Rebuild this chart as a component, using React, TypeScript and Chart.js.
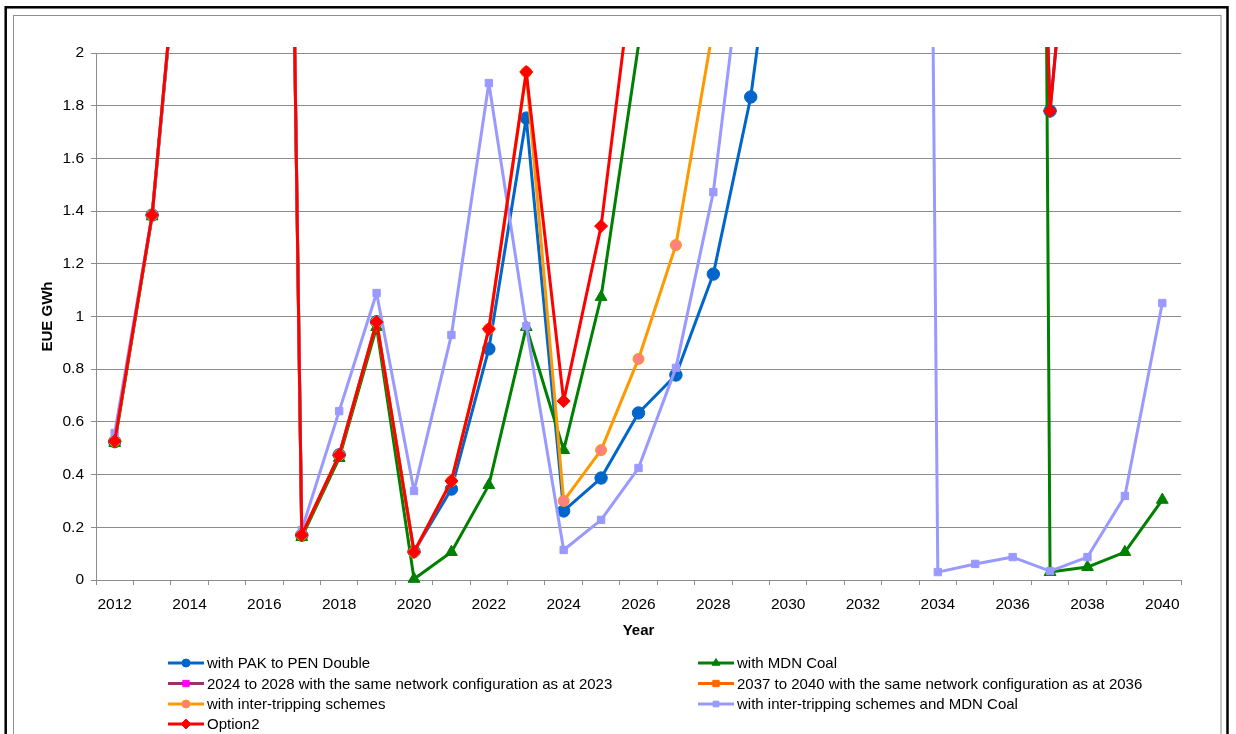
import React, { useEffect, useRef } from 'react';
import { Chart, registerables } from 'chart.js';

Chart.register(...registerables);

// ---- categories ----
const years = [
  '2012', '2013', '2014', '2015', '2016', '2017', '2018', '2019', '2020', '2021',
  '2022', '2023', '2024', '2025', '2026', '2027', '2028', '2029', '2030', '2031',
  '2032', '2033', '2034', '2035', '2036', '2037', '2038', '2039', '2040',
];

// ---- series (EUE GWh); values above 2 run off the top of the plot ----
const pakToPenDouble = [
  0.525, 1.385, 2.9, null, 10, 0.17, 0.475, 0.98, 0.108, 0.345,
  0.877, 1.753, 0.262, 0.387, 0.634, 0.778, 1.161, 1.833, 2.9, null,
  null, null, null, null, 6.2, 1.78, 3.3, null, null,
];
const mdnCoal = [
  0.52, 1.38, 2.9, null, 10, 0.163, 0.463, 0.96, 0.004, 0.106,
  0.36, 0.96, 0.493, 1.074, 2.03, null, null, null, null, null,
  null, null, null, null, 22, 0.03, 0.049, 0.106, 0.304,
];
const sameAs2023 = [
  null, null, null, null, null, null, null, null, null, null,
  null, null, null, null, null, null, null, null, null, null,
  null, null, null, null, null, null, null, null, null,
];
const sameAs2036 = [
  null, null, null, null, null, null, null, null, null, null,
  null, null, null, null, null, null, null, null, null, null,
  null, null, null, null, null, null, null, null, null,
];
const interTripping = [
  0.527, 1.385, 2.92, null, 10, 0.171, 0.474, 0.979, 0.106, 0.376,
  0.953, 1.928, 0.30, 0.493, 0.839, 1.271, 2.10, null, null, null,
  null, null, null, null, null, null, null, null, null,
];
const interTrippingMdn = [
  0.558, 1.385, 2.9, null, 10, 0.19, 0.641, 1.089, 0.338, 0.93,
  1.886, 0.964, 0.114, 0.228, 0.425, 0.805, 1.472, 2.63, null, null,
  null, 16, 0.03, 0.061, 0.087, 0.034, 0.087, 0.319, 1.051,
];
const option2 = [
  0.527, 1.385, 2.92, null, 10, 0.171, 0.474, 0.979, 0.106, 0.376,
  0.953, 1.928, 0.679, 1.343, 2.48, null, null, null, null, null,
  null, null, null, null, 6.2, 1.78, 3.3, null, null,
];

const seriesLabels = [
  'with PAK to PEN Double',
  'with MDN Coal',
  '2024 to 2028 with the same network configuration as at 2023',
  '2037 to 2040 with the same network configuration as at 2036',
  'with inter-tripping schemes',
  'with inter-tripping schemes and MDN Coal',
  'Option2',
];

const FONT = "'Liberation Sans', Arial, Helvetica, sans-serif";
const GRID = '#8c8c8c';

type Style = {
  line: string;
  fill: string;
  stroke: string;
  shape: string;
  r: number;
  lr: number;
};

const styles: Style[] = [
  { line: '#0066CC', fill: '#0066CC', stroke: '#0066CC', shape: 'circle', r: 6.2, lr: 4 },
  { line: '#008000', fill: '#008000', stroke: '#008000', shape: 'triangle', r: 6.8, lr: 4.5 },
  { line: '#993366', fill: '#FF00FF', stroke: '#FF00FF', shape: 'rect', r: 5, lr: 4.5 },
  { line: '#FF6600', fill: '#FF6600', stroke: '#FF6600', shape: 'rect', r: 5, lr: 4.5 },
  { line: '#FF9900', fill: '#FF8080', stroke: '#FF9900', shape: 'circle', r: 5.5, lr: 4 },
  { line: '#9999FF', fill: '#9999FF', stroke: '#9999FF', shape: 'rect', r: 5.2, lr: 4 },
  { line: '#FF0000', fill: '#FF0000', stroke: '#FF0000', shape: 'rectRot', r: 6.5, lr: 5 },
];

function drawMarker(ctx: CanvasRenderingContext2D, shape: string, x: number, y: number, r: number, fill: string, stroke: string) {
  ctx.save();
  ctx.beginPath();
  if (shape === 'circle') {
    ctx.arc(x, y, r, 0, Math.PI * 2);
  } else if (shape === 'triangle') {
    const h = r;
    ctx.moveTo(x, y - h);
    ctx.lineTo(x + h * Math.sin(Math.PI * 2 / 3), y - h * Math.cos(Math.PI * 2 / 3));
    ctx.lineTo(x + h * Math.sin(Math.PI * 4 / 3), y - h * Math.cos(Math.PI * 4 / 3));
    ctx.closePath();
  } else if (shape === 'rect') {
    const s = r * Math.SQRT1_2;
    ctx.rect(x - s, y - s, 2 * s, 2 * s);
  } else {
    ctx.moveTo(x, y - r);
    ctx.lineTo(x + r, y);
    ctx.lineTo(x, y + r);
    ctx.lineTo(x - r, y);
    ctx.closePath();
  }
  ctx.fillStyle = fill;
  ctx.fill();
  ctx.lineWidth = 1;
  ctx.strokeStyle = stroke;
  ctx.stroke();
  ctx.restore();
}

const framePlugin = {
  id: 'frame',
  beforeDraw(chart: any) {
    const ctx = chart.ctx as CanvasRenderingContext2D;
    ctx.save();
    ctx.fillStyle = '#ffffff';
    ctx.fillRect(0, 0, chart.width, chart.height);
    ctx.strokeStyle = '#000000';
    ctx.lineWidth = 2.5;
    ctx.strokeRect(5.7, 7.3, 1227.5 - 5.7, 900);
    ctx.strokeStyle = '#8f8f8f';
    ctx.lineWidth = 1;
    ctx.strokeRect(13.5, 15.5, 1221 - 13.5, 900);
    ctx.restore();
  },
};

const legendPlugin = {
  id: 'customLegend',
  afterDraw(chart: any) {
    const ctx = chart.ctx as CanvasRenderingContext2D;
    const colX = [168, 698];
    const rowY = [663, 683.5, 704, 724];
    ctx.save();
    ctx.font = `15px ${FONT}`;
    ctx.textBaseline = 'middle';
    ctx.textAlign = 'left';
    seriesLabels.forEach((label, i) => {
      const st = styles[i];
      const x = colX[i % 2];
      const y = rowY[Math.floor(i / 2)];
      ctx.beginPath();
      ctx.strokeStyle = st.line;
      ctx.lineWidth = 3;
      ctx.moveTo(x, y);
      ctx.lineTo(x + 36, y);
      ctx.stroke();
      drawMarker(ctx, st.shape, x + 18, y, st.lr, st.fill, st.stroke);
      ctx.fillStyle = '#000000';
      ctx.fillText(label, x + 39, y + 1);
    });
    ctx.restore();
  },
};

const allSeries = [pakToPenDouble, mdnCoal, sameAs2023, sameAs2036, interTripping, interTrippingMdn, option2];

export default function App() {
  const ref = useRef<HTMLCanvasElement>(null);

  useEffect(() => {
    if (!ref.current) return;
    Chart.defaults.font.family = FONT;
    Chart.defaults.color = '#000000';

    const datasets = allSeries.map((data, i) => {
      const st = styles[i];
      return {
        label: seriesLabels[i],
        data,
        borderColor: st.line,
        backgroundColor: st.fill,
        borderWidth: 3,
        borderJoinStyle: 'round' as const,
        borderCapStyle: 'round' as const,
        pointStyle: st.shape as any,
        pointRadius: (c: any) => (c.raw == null || c.raw > 2.001 ? 0 : st.r),
        pointHoverRadius: 0,
        pointBackgroundColor: st.fill,
        pointBorderColor: st.stroke,
        pointBorderWidth: 1,
        tension: 0,
        spanGaps: false,
        clip: { left: 3, top: 6, right: 3, bottom: 3 },
        order: 10 - i,
      };
    });

    const chart = new Chart(ref.current, {
      type: 'line',
      data: { labels: years, datasets },
      options: {
        responsive: false,
        animation: false,
        events: [],
        layout: { padding: { left: 14, top: 53, right: 55, bottom: 84 } },
        plugins: {
          legend: { display: false },
          tooltip: { enabled: false },
        },
        scales: {
          x: {
            type: 'category',
            offset: true,
            afterFit: (s: any) => { s.height = 70; },
            grid: {
              display: true,
              drawOnChartArea: false,
              drawTicks: true,
              tickLength: 5,
              offset: true,
              color: GRID,
            },
            border: { display: true, color: GRID, width: 1 },
            ticks: {
              autoSkip: false,
              maxRotation: 0,
              minRotation: 0,
              padding: 10,
              font: { size: 15.5, family: FONT },
              color: '#000000',
              callback: (_v: any, idx: number) => (idx % 2 === 0 ? years[idx] : ''),
            },
            title: {
              display: true,
              text: 'Year',
              color: '#000000',
              font: { size: 15, weight: 'bold', family: FONT },
              padding: { top: 0, bottom: 10 },
            },
          },
          y: {
            min: 0,
            max: 2,
            afterFit: (s: any) => { s.width = 82; },
            grid: { color: GRID, tickLength: 5, drawTicks: true },
            border: { display: true, color: GRID, width: 1 },
            ticks: {
              stepSize: 0.2,
              padding: 7,
              font: { size: 15.5, family: FONT },
              color: '#000000',
              callback: (v: any) => String(Number(Number(v).toFixed(1))),
            },
            title: {
              display: true,
              text: 'EUE GWh',
              color: '#000000',
              font: { size: 15, weight: 'bold', family: FONT },
              padding: { top: 25, bottom: 0 },
            },
          },
        },
      },
      plugins: [framePlugin, legendPlugin],
    });

    return () => chart.destroy();
  }, []);

  return (
    <div style={{ position: 'fixed', left: 0, top: 0, width: 1236, height: 734, background: '#ffffff' }}>
      <canvas ref={ref} width={1236} height={734} style={{ display: 'block' }} />
    </div>
  );
}
